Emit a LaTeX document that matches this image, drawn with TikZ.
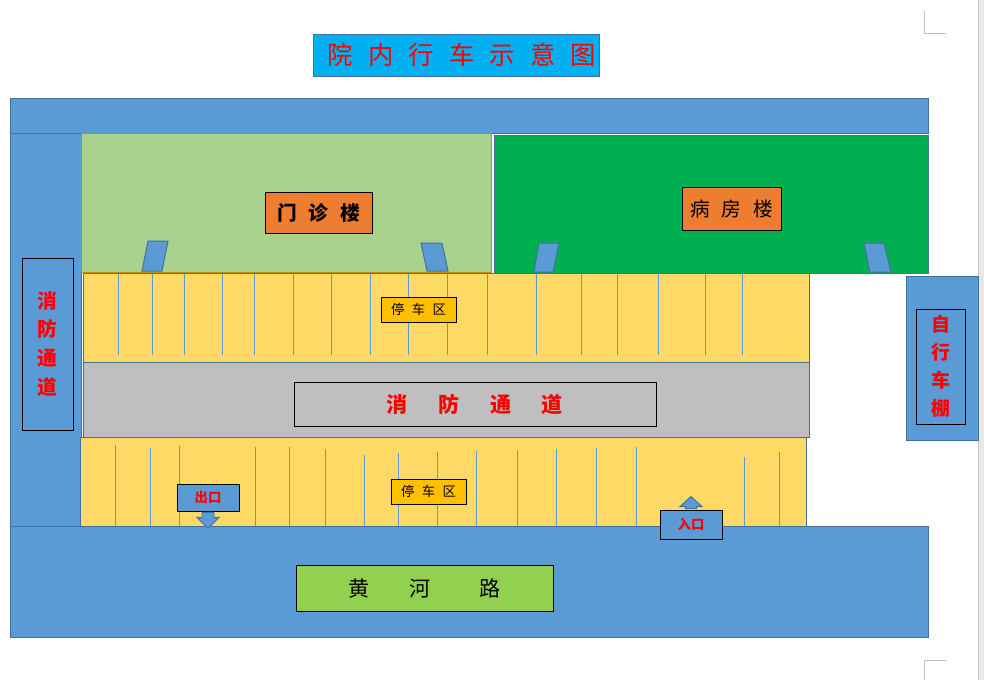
\documentclass[tikz,border=0pt]{standalone}
\usepackage{fontspec}
\setmainfont{Noto Sans CJK SC}
\definecolor{road}{HTML}{5B9BD5}
\definecolor{roadedge}{HTML}{41719C}
\definecolor{titlebg}{HTML}{00B0F0}
\definecolor{clinic}{HTML}{A9D18E}
\definecolor{clinicedge}{HTML}{BF9000}
\definecolor{ward}{HTML}{00B050}
\definecolor{label}{HTML}{ED7D31}
\definecolor{park}{HTML}{FFD966}
\definecolor{parklabel}{HTML}{FFC000}
\definecolor{lane}{HTML}{BFBFBF}
\definecolor{roadlabel}{HTML}{92D050}
\newlength\unitpx
\setlength\unitpx{0.025cm}
\tikzset{
  area/.style={draw=roadedge,line width=0.7pt},
  tag/.style={draw=black,line width=0.65pt,inner sep=0pt},
  stall/.style={draw=road,line width=0.7pt},
  door/.style={fill=road,draw=roadedge,line width=0.7pt},
}
\begin{document}
\begin{tikzpicture}[x=\unitpx,y=-\unitpx]
  \path[use as bounding box] (0,0) rectangle (984,680);

  \fill[gray!18] (978,0) rectangle (984,680);
  \draw[gray!45] (978,0) -- (978,680);
  \draw[gray!50] (924,11) -- (924,33) -- (946,33);
  \draw[gray!50] (924,680) -- (924,660) -- (946,660);

  \node[draw=roadedge,fill=titlebg,line width=0.7pt,inner sep=0pt,minimum width=286\unitpx,minimum height=42\unitpx,
        text=red,font=\fontsize{18}{20}\selectfont] (title) at (456,55)
        {\hspace{12\unitpx}院\hspace{0.6em}内\hspace{0.6em}行\hspace{0.6em}车\hspace{0.6em}示\hspace{0.6em}意\hspace{0.6em}图};

  \draw[area,fill=road] (10,98) rectangle (928,133);
  \draw[area,fill=road] (10,133) rectangle (81,526);
  \draw[area,fill=road] (10,526) rectangle (928,637);
  \draw[area,fill=road] (906,276) rectangle (978,440);

  \draw[draw=clinicedge,line width=0.7pt,fill=clinic] (81,133) rectangle (491,272);
  \draw[area,fill=ward] (494,135) rectangle (928,273);

  \draw[door] (148,241) -- (168,241) -- (162,271) -- (142,271) -- cycle;
  \draw[door] (421,243) -- (442,243) -- (448,271) -- (427,271) -- cycle;
  \draw[door] (539,243) -- (559,243) -- (553,272) -- (534,272) -- cycle;
  \draw[door] (864,243) -- (884,243) -- (891,272) -- (870,272) -- cycle;

  \draw[area,fill=park] (83,273) rectangle (809,362);
  \draw[area,fill=lane] (83,362) rectangle (809,437);
  \draw[area,fill=park] (80,437) rectangle (806,526);

  \foreach \x in {118,152,184,222,254,293,331,370,408,447,487,536,581,617,658,705,742}
    \draw[stall] (\x,274) -- (\x,355);
  \foreach \x/\t in {115/445,150/448,179/446,255/447,289/447,325/449,364/455,398/453,
                     437/452,476/451,517/450,556/449,596/448,636/447,744/457,779/452}
    \draw[stall] (\x,\t) -- (\x,526);

  \node[tag,fill=label,minimum width=107\unitpx,minimum height=41\unitpx,
        font=\fontsize{14}{16}\selectfont\bfseries] (clinic) at (318.5,212.5)
        {门\hspace{0.6em}诊\hspace{0.6em}楼};
  \node[tag,fill=label,minimum width=99\unitpx,minimum height=43\unitpx,
        font=\fontsize{14}{16}\selectfont] (wardtag) at (731.5,208.5)
        {病\hspace{0.6em}房\hspace{0.6em}楼};
  \node[tag,fill=parklabel,minimum width=75\unitpx,minimum height=25\unitpx,
        font=\fontsize{9.5}{11}\selectfont] (parkup) at (418.5,309.5)
        {停\hspace{0.55em}车\hspace{0.55em}区};
  \node[tag,fill=parklabel,minimum width=75\unitpx,minimum height=25\unitpx,
        font=\fontsize{9.5}{11}\selectfont] (parkdown) at (428.5,491.5)
        {停\hspace{0.55em}车\hspace{0.55em}区};
  \node[tag,minimum width=362\unitpx,minimum height=44\unitpx,text=red,
        font=\fontsize{15}{17}\selectfont\bfseries] (lanetag) at (475,404)
        {消\hspace{1.45em}防\hspace{1.45em}通\hspace{1.45em}道};
  \node[tag,minimum width=51\unitpx,minimum height=172\unitpx,text=red,align=center,
        font=\fontsize{14}{20.5}\selectfont\bfseries] (sidelane) at (47.5,344)
        {消\\防\\通\\道};
  \node[tag,minimum width=49\unitpx,minimum height=115\unitpx,text=red,align=center,
        font=\fontsize{13.5}{20}\selectfont\bfseries] (bike) at (940.5,366.5)
        {自\\行\\车\\棚};
  \node[tag,fill=roadlabel,minimum width=257\unitpx,minimum height=46\unitpx,
        font=\fontsize{15}{17}\selectfont] (street) at (424.5,588)
        {黄\hspace{1.9em}河\hspace{2.35em}路};

  \node[tag,fill=road,minimum width=62\unitpx,minimum height=27\unitpx,text=red,
        font=\fontsize{9.5}{11}\selectfont\bfseries] (exit) at (208,497.5) {出口};
  \node[tag,fill=road,minimum width=62\unitpx,minimum height=29\unitpx,text=red,
        font=\fontsize{9.5}{11}\selectfont\bfseries] (entry) at (691,524.5) {入口};

  \draw[door] (exit.south) ++(-6,1) -- ++(0,5) -- ++(-5,0) -- ++(11,11)
              -- ++(11,-11) -- ++(-5,0) -- ++(0,-5) -- cycle;
  \draw[door] (entry.north) ++(-5.5,-1) -- ++(0,-2) -- ++(-5.5,0) -- ++(11,-10)
              -- ++(11,10) -- ++(-5.5,0) -- ++(0,2) -- cycle;
\end{tikzpicture}
\end{document}
